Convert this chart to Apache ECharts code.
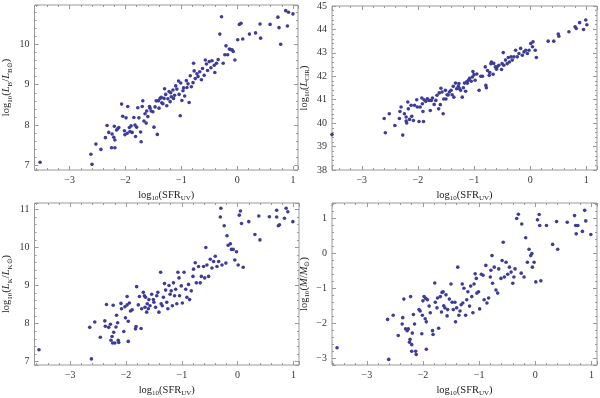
<!DOCTYPE html>
<html>
<head>
<meta charset="utf-8">
<script src="https://cdn.jsdelivr.net/npm/echarts@6/dist/echarts.min.js"></script>
<style>
  html, body { margin: 0; padding: 0; background: #fff; }
  #chart { width: 600px; height: 398px; }
</style>
</head>
<body>
<div id="chart"></div>
<script>
// log10(SFR_UV) vs log10(L_B / L_Bsun)
const lumB = [
  [-3.53,7.08],[-2.62,7.28],[-2.60,7.03],[-2.53,7.53],[-2.44,7.40],[-2.36,7.69],[-2.33,7.99],[-2.30,7.82],
  [-2.25,7.44],[-2.24,7.78],[-2.21,7.70],[-2.19,7.63],[-2.19,7.44],[-2.20,7.97],[-2.16,7.88],[-2.14,7.91],
  [-2.12,7.94],[-2.07,8.52],[-2.05,8.22],[-2.02,7.86],[-2.01,7.76],[-1.99,8.18],[-1.97,7.80],[-1.96,8.46],
  [-1.93,7.94],[-1.92,7.84],[-1.90,7.98],[-1.88,7.82],[-1.85,8.19],[-1.83,8.00],[-1.82,7.72],[-1.80,7.95],
  [-1.78,8.43],[-1.76,8.18],[-1.73,7.83],[-1.72,7.59],[-1.70,8.46],[-1.69,8.60],[-1.67,8.10],[-1.65,8.28],
  [-1.63,8.05],[-1.62,8.35],[-1.60,8.21],[-1.57,8.46],[-1.54,8.35],[-1.51,8.33],[-1.49,7.95],[-1.47,8.45],
  [-1.45,8.60],[-1.43,7.77],[-1.41,8.60],[-1.40,8.42],[-1.38,8.66],[-1.36,8.69],[-1.33,8.53],[-1.31,8.66],
  [-1.30,8.90],[-1.28,8.76],[-1.26,8.48],[-1.24,8.65],[-1.22,8.83],[-1.20,8.58],[-1.18,8.70],[-1.15,8.87],
  [-1.14,8.66],[-1.12,8.74],[-1.10,8.97],[-1.08,8.89],[-1.05,9.09],[-1.04,8.76],[-1.02,8.23],[-1.01,9.04],
  [-0.99,8.61],[-0.96,8.92],[-0.94,8.72],[-0.90,8.93],[-0.88,9.02],[-0.86,8.56],[-0.84,9.22],[-0.82,8.95],
  [-0.79,9.05],[-0.78,9.53],[-0.77,9.34],[-0.75,9.15],[-0.72,9.27],[-0.67,9.32],[-0.64,9.12],[-0.59,9.23],
  [-0.57,9.61],[-0.55,9.51],[-0.53,9.35],[-0.50,9.57],[-0.45,9.59],[-0.41,9.48],[-0.40,9.30],[-0.37,9.53],
  [-0.34,9.62],[-0.31,10.25],[-0.28,10.68],[-0.25,9.53],[-0.22,9.74],[-0.20,9.96],[-0.17,9.74],[-0.14,9.88],
  [-0.12,9.87],[-0.09,9.86],[-0.07,9.82],[-0.04,9.61],[0.01,10.11],[0.04,10.49],[0.07,10.52],[0.10,10.13],
  [0.22,10.25],[0.33,10.28],[0.41,10.50],[0.42,10.15],[0.59,10.49],[0.73,10.67],[0.75,10.41],[0.78,10.00],
  [0.87,10.83],[0.90,10.45],[0.92,10.79],[1.00,10.75],
  [-1.35,8.55],[-1.19,8.80],[-0.97,8.85],[-0.70,9.20],[-0.47,9.42],[-0.62,9.40],[-0.91,9.10],[-1.56,8.42]
];

// log10(SFR_UV) vs log10(L_CIR)
const lumCIR = [
  [-3.53,39.51],[-2.60,40.20],[-2.58,39.59],[-2.51,40.40],[-2.41,39.90],[-2.33,40.20],[-2.32,40.50],[-2.30,40.69],
  [-2.27,39.49],[-2.24,40.40],[-2.21,40.26],[-2.21,40.09],[-2.20,40.01],[-2.18,40.90],[-2.17,40.61],[-2.15,40.16],
  [-2.12,40.76],[-2.11,40.29],[-2.08,40.11],[-2.06,40.76],[-2.02,41.00],[-2.01,40.69],[-1.98,40.07],[-1.96,40.69],
  [-1.93,41.07],[-1.92,40.83],[-1.91,40.50],[-1.90,40.07],[-1.89,41.00],[-1.86,40.93],[-1.83,41.04],[-1.80,40.97],
  [-1.78,40.54],[-1.76,40.97],[-1.74,41.07],[-1.71,40.80],[-1.68,40.97],[-1.66,41.19],[-1.63,40.61],[-1.62,41.29],
  [-1.60,40.79],[-1.59,41.49],[-1.57,41.33],[-1.55,40.40],[-1.54,41.03],[-1.51,41.40],[-1.50,41.03],[-1.48,41.21],
  [-1.44,41.33],[-1.41,41.40],[-1.39,41.21],[-1.37,41.57],[-1.36,41.11],[-1.33,41.71],[-1.31,41.47],[-1.28,41.57],
  [-1.27,41.69],[-1.24,41.40],[-1.21,41.11],[-1.19,41.51],[-1.17,41.71],[-1.15,41.36],[-1.13,41.76],[-1.10,41.83],
  [-1.08,41.91],[-1.05,41.79],[-1.03,41.97],[-1.02,42.20],[-1.00,42.07],[-0.98,41.83],[-0.91,41.40],[-0.88,42.00],
  [-0.85,42.00],[-0.80,42.40],[-0.79,41.61],[-0.78,41.51],[-0.73,42.04],[-0.72,42.16],[-0.70,42.54],[-0.69,42.61],
  [-0.66,42.09],[-0.62,42.40],[-0.59,42.40],[-0.56,42.47],[-0.51,42.29],[-0.50,42.54],[-0.48,43.01],[-0.47,42.47],
  [-0.44,42.69],[-0.41,42.54],[-0.37,42.61],[-0.34,42.83],[-0.32,42.69],[-0.29,42.83],[-0.26,43.11],[-0.23,42.83],
  [-0.20,42.97],[-0.17,43.19],[-0.14,42.90],[-0.11,43.04],[-0.08,43.11],[-0.05,42.97],[-0.02,43.11],[0.01,43.40],
  [0.04,43.26],[0.05,43.47],[0.09,43.11],[0.11,42.80],[0.32,43.50],[0.42,43.50],[0.50,43.80],[0.51,43.71],
  [0.69,43.90],[0.80,44.11],[0.82,44.04],[0.88,44.29],[0.95,44.00],[0.99,44.40],[1.01,44.20],
  [-1.46,41.20],[-1.26,41.48],[-1.12,41.70],[-0.95,42.10],[-0.76,42.25],[-0.60,42.30],[-0.39,42.80],[-0.65,42.55]
];

// log10(SFR_UV) vs log10(L_K / L_Ksun)
const lumK = [
  [-3.56,7.31],[-2.65,7.90],[-2.62,7.07],[-2.56,8.04],[-2.46,7.64],[-2.38,8.07],[-2.37,7.93],[-2.35,8.50],
  [-2.31,7.90],[-2.28,7.98],[-2.27,7.56],[-2.25,7.66],[-2.24,7.49],[-2.23,8.48],[-2.22,7.77],[-2.20,7.49],
  [-2.18,7.91],[-2.17,8.22],[-2.15,8.02],[-2.14,7.56],[-2.13,7.50],[-2.09,8.53],[-2.08,8.39],[-2.04,7.79],
  [-2.02,8.44],[-2.01,8.15],[-1.98,8.71],[-1.98,8.49],[-1.96,8.06],[-1.96,7.53],[-1.94,8.54],[-1.92,8.33],
  [-1.89,8.36],[-1.83,7.86],[-1.82,7.92],[-1.81,8.97],[-1.78,8.49],[-1.76,8.71],[-1.73,7.87],[-1.72,8.39],
  [-1.69,8.82],[-1.67,8.73],[-1.66,8.43],[-1.65,8.69],[-1.63,8.30],[-1.62,8.52],[-1.60,8.39],[-1.59,8.63],
  [-1.57,8.47],[-1.54,8.77],[-1.51,8.63],[-1.50,8.56],[-1.47,8.43],[-1.45,8.73],[-1.43,8.82],[-1.41,8.30],
  [-1.38,9.35],[-1.37,8.52],[-1.35,8.47],[-1.33,8.69],[-1.31,9.05],[-1.29,8.88],[-1.27,8.56],[-1.25,8.39],
  [-1.23,9.00],[-1.21,8.77],[-1.19,8.86],[-1.17,8.47],[-1.15,9.07],[-1.13,8.73],[-1.11,8.90],[-1.09,8.52],
  [-1.07,9.35],[-1.05,9.20],[-1.04,8.73],[-1.01,8.99],[-0.99,8.54],[-0.96,9.35],[-0.93,8.90],[-0.91,8.69],
  [-0.88,9.03],[-0.86,8.63],[-0.83,8.86],[-0.80,9.24],[-0.79,9.43],[-0.76,9.60],[-0.74,9.07],[-0.70,9.50],
  [-0.67,9.07],[-0.65,9.24],[-0.61,9.50],[-0.59,9.20],[-0.57,10.00],[-0.55,9.54],[-0.52,9.24],[-0.49,9.69],
  [-0.46,9.46],[-0.43,9.63],[-0.40,9.77],[-0.37,9.50],[-0.34,9.63],[-0.31,10.80],[-0.30,11.03],[-0.28,9.54],
  [-0.24,10.57],[-0.21,9.59],[-0.19,10.31],[-0.17,10.06],[-0.13,10.10],[-0.11,9.95],[-0.08,9.95],[-0.05,9.67],
  [-0.02,9.89],[0.01,9.54],[0.03,10.85],[0.05,10.96],[0.07,10.63],[0.10,9.48],[0.20,10.68],[0.31,10.34],
  [0.40,10.20],[0.38,10.83],[0.57,10.81],[0.70,10.98],[0.70,10.80],[0.73,10.57],[0.75,10.60],[0.84,10.77],
  [0.87,11.03],[0.90,10.94],[0.99,10.68]
];

// log10(SFR_UV) vs log10(M / Msun)
const massM = [
  [-3.53,-2.69],[-2.63,-1.88],[-2.61,-3.02],[-2.53,-1.76],[-2.44,-2.34],[-2.37,-2.01],[-2.36,-1.83],[-2.34,-1.30],
  [-2.31,-2.15],[-2.28,-2.20],[-2.26,-2.15],[-2.24,-2.53],[-2.23,-2.45],[-2.22,-1.23],[-2.20,-2.79],[-2.19,-2.27],
  [-2.20,-2.60],[-2.17,-1.74],[-2.15,-2.01],[-2.13,-2.79],[-2.12,-2.88],[-2.07,-1.60],[-2.05,-1.64],[-2.02,-2.29],
  [-2.01,-1.76],[-2.00,-1.35],[-1.98,-1.23],[-1.96,-1.86],[-1.95,-1.28],[-1.94,-1.95],[-1.94,-2.73],[-1.92,-1.32],
  [-1.89,-1.50],[-1.87,-1.69],[-1.83,-2.20],[-1.82,-2.31],[-1.79,-0.84],[-1.78,-1.39],[-1.75,-1.55],[-1.74,-1.27],
  [-1.72,-2.13],[-1.69,-1.23],[-1.67,-1.67],[-1.66,-1.11],[-1.64,-1.09],[-1.63,-1.49],[-1.61,-1.55],[-1.59,-1.18],
  [-1.57,-1.78],[-1.56,-1.60],[-1.53,-1.30],[-1.50,-0.87],[-1.48,-1.39],[-1.46,-1.60],[-1.43,-1.39],[-1.42,-1.95],
  [-1.40,-1.55],[-1.38,-0.39],[-1.36,-1.76],[-1.34,-1.64],[-1.32,-1.46],[-1.30,-0.87],[-1.29,-1.41],[-1.27,-0.99],
  [-1.24,-1.76],[-1.22,-1.32],[-1.20,-1.09],[-1.17,-1.50],[-1.15,-0.93],[-1.13,-1.23],[-1.11,-1.69],[-1.09,-0.87],
  [-1.07,-0.58],[-1.05,-0.71],[-1.04,-1.13],[-1.01,-1.09],[-0.99,-1.58],[-0.96,-0.59],[-0.93,-0.62],[-0.91,-1.32],
  [-0.88,-0.34],[-0.86,-1.41],[-0.83,-1.27],[-0.80,-0.67],[-0.79,-0.48],[-0.77,-0.06],[-0.76,-0.85],[-0.73,-0.39],
  [-0.70,-1.04],[-0.67,-1.13],[-0.65,-0.44],[-0.61,-0.71],[-0.59,-0.20],[-0.57,0.32],[-0.55,-0.67],[-0.52,-0.25],
  [-0.49,-0.59],[-0.46,-0.39],[-0.43,-0.53],[-0.40,-0.85],[-0.38,-0.67],[-0.36,-0.44],[-0.33,1.00],[-0.30,1.12],
  [-0.25,-0.56],[-0.24,0.84],[-0.20,-0.67],[-0.17,0.45],[-0.14,-0.25],[-0.11,0.12],[-0.08,-0.06],[-0.06,0.00],
  [-0.05,-0.39],[-0.02,-0.25],[0.01,-0.81],[0.04,0.96],[0.07,1.11],[0.08,0.80],[0.10,-0.78],[0.20,0.80],
  [0.31,0.26],[0.40,0.12],[0.38,0.91],[0.57,0.89],[0.70,1.08],[0.72,0.80],[0.73,0.56],[0.76,0.80],
  [0.84,0.63],[0.88,1.23],[0.90,0.93],[0.99,0.54]
];

const panelData = [lumB, lumCIR, lumK, massM];
const xRanges = [[-3.63, 1.09], [-3.53, 1.19], [-3.64, 1.10], [-3.62, 1.10]];
const yRanges = [[6.89, 10.97], [38, 45], [6.91, 11.17], [-3.18, 1.44]];
const xTitle = 'log{s|10}(SFR{s|UV})';
const yTitles = [
  'log{s|10}({i|L}{s|B}/{i|L}{s|B⊙})',
  'log{s|10}({i|L}{s|CIR})',
  'log{s|10}({i|L}{s|K}/{i|L}{s|K⊙})',
  'log{s|10}({i|M}/{i|M}{s|⊙})'
];

const grids = [
  { left: 32, top: 5, width: 266, height: 165 },
  { left: 332, top: 6, width: 266, height: 164 },
  { left: 31, top: 203, width: 268, height: 166 },
  { left: 332, top: 203, width: 265, height: 166 }
];

const serif = 'Liberation Serif';
const frameColor = '#999';
const dotColor = '#3e3c99';

const rich = {
  s: { fontFamily: serif, fontSize: 7, verticalAlign: 'bottom', lineHeight: 14, color: '#222' },
  i: { fontFamily: serif, fontSize: 10.5, fontStyle: 'italic', lineHeight: 14, color: '#222' }
};

function fmt(v) {
  if (Math.abs(v - Math.round(v)) > 1e-6) return '';
  const r = Math.round(v);
  return r < 0 ? '\u2212' + Math.abs(r) : String(r);
}

const tickBase = {
  axisLine: { show: false, onZero: false },
  axisTick: { show: true, inside: true, length: 4, lineStyle: { color: frameColor, width: 1 } },
  minorTick: { show: true, splitNumber: 5, length: 2, lineStyle: { color: frameColor, width: 1 } },
  splitLine: { show: false },
  minorSplitLine: { show: false }
};

const xAxes = [], yAxes = [], series = [];
grids.forEach((g, k) => {
  const [x0, x1] = xRanges[k];
  const [y0, y1] = yRanges[k];
  xAxes.push(Object.assign({
    type: 'value', gridIndex: k, position: 'bottom', min: x0, max: x1,
    name: xTitle, nameLocation: 'middle', nameGap: 18,
    nameTextStyle: { fontFamily: serif, fontSize: 10.5, color: '#222', rich: rich },
    axisLabel: { formatter: fmt, fontFamily: serif, fontSize: 10, color: '#333', margin: 5 }
  }, tickBase));
  xAxes.push(Object.assign({
    type: 'value', gridIndex: k, position: 'top', min: x0, max: x1,
    axisLabel: { show: false }
  }, tickBase));
  yAxes.push(Object.assign({
    type: 'value', gridIndex: k, position: 'left', min: y0, max: y1,
    name: yTitles[k], nameLocation: 'middle', nameGap: 21, nameRotate: 90,
    nameTextStyle: { fontFamily: serif, fontSize: 10.5, color: '#222', rich: rich },
    axisLabel: { formatter: fmt, fontFamily: serif, fontSize: 10, color: '#333', margin: 5 }
  }, tickBase));
  yAxes.push(Object.assign({
    type: 'value', gridIndex: k, position: 'right', min: y0, max: y1,
    axisLabel: { show: false }
  }, tickBase));
  series.push({
    type: 'scatter',
    xAxisIndex: 2 * k,
    yAxisIndex: 2 * k,
    data: panelData[k],
    symbolSize: 3.6,
    itemStyle: { color: dotColor, opacity: 1 },
    silent: true
  });
});

const chart = echarts.init(document.getElementById('chart'), null, { renderer: 'canvas' });
chart.setOption({
  animation: false,
  backgroundColor: '#fff',
  grid: grids.map(g => Object.assign({ show: true, borderColor: frameColor, borderWidth: 1, containLabel: false }, g)),
  xAxis: xAxes,
  yAxis: yAxes,
  series: series
});
</script>
</body>
</html>
